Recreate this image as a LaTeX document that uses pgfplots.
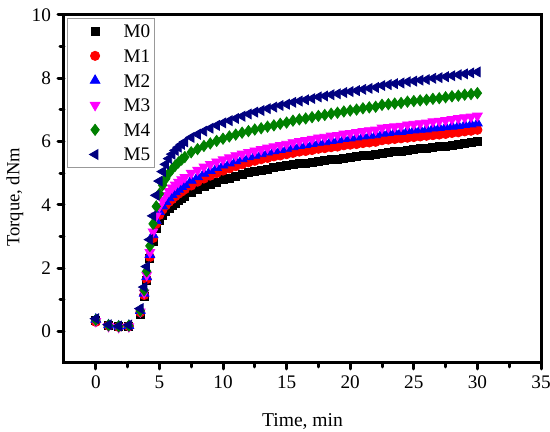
\documentclass[border=0pt]{standalone}
\usepackage{pgfplots}
\pgfplotsset{compat=1.18}
\usepackage{pgfplotstable}
\usepackage{fontspec}
\setmainfont{Liberation Serif}
\definecolor{mgreen}{RGB}{0,128,0}
\definecolor{mnavy}{RGB}{0,0,128}
\definecolor{mmag}{RGB}{255,0,255}
\definecolor{mred}{RGB}{255,0,0}
\definecolor{mblue}{RGB}{0,0,255}
\pgfplotstableread{
t m0 m1 m2 m3 m4 m5
0 0.35 0.30 0.38 0.32 0.36 0.40
1 0.20 0.18 0.20 0.16 0.19 0.21
1.8 0.15 0.14 0.16 0.13 0.16 0.17
2.6 0.17 0.16 0.18 0.15 0.18 0.20
3.5 0.55 0.60 0.65 0.62 0.65 0.72
3.8 1.10 1.15 1.20 1.22 1.30 1.40
4.0 1.60 1.65 1.72 1.78 1.90 2.05
4.25 2.30 2.35 2.42 2.50 2.70 2.90
4.5 2.85 2.95 3.05 3.15 3.40 3.65
4.75 3.25 3.40 3.50 3.65 3.95 4.30
5.0 3.50 3.68 3.78 3.95 4.35 4.75
5.25 3.68 3.85 3.96 4.14 4.62 5.05
5.5 3.80 3.98 4.10 4.30 4.83 5.28
5.75 3.90 4.09 4.22 4.43 5.00 5.46
6.0 3.98 4.18 4.32 4.54 5.13 5.60
6.25 4.06 4.27 4.41 4.63 5.24 5.72
6.5 4.13 4.35 4.49 4.72 5.34 5.82
6.75 4.20 4.42 4.57 4.80 5.43 5.91
7.0 4.27 4.49 4.64 4.87 5.51 5.99
7.5 4.38 4.61 4.77 5.00 5.66 6.13
8.0 4.48 4.73 4.88 5.10 5.76 6.23
8.5 4.57 4.83 4.99 5.20 5.86 6.33
9.0 4.65 4.92 5.08 5.28 5.94 6.42
9.5 4.72 5.00 5.17 5.36 6.02 6.51
10 4.79 5.08 5.25 5.43 6.09 6.59
10.5 4.85 5.15 5.32 5.49 6.16 6.66
11 4.91 5.22 5.39 5.56 6.22 6.73
11.5 4.96 5.28 5.45 5.61 6.28 6.80
12 5.01 5.34 5.51 5.66 6.33 6.87
12.5 5.05 5.39 5.56 5.71 6.38 6.93
13 5.09 5.44 5.61 5.75 6.42 6.98
13.5 5.13 5.48 5.66 5.80 6.47 7.04
14 5.17 5.53 5.70 5.84 6.51 7.09
14.5 5.20 5.56 5.74 5.88 6.56 7.14
15 5.23 5.60 5.78 5.92 6.60 7.18
15.5 5.27 5.64 5.83 5.97 6.66 7.24
16 5.30 5.68 5.87 6.01 6.70 7.28
16.5 5.32 5.70 5.90 6.04 6.73 7.32
17 5.35 5.73 5.93 6.08 6.77 7.36
17.5 5.38 5.77 5.97 6.12 6.81 7.41
18 5.40 5.79 5.99 6.14 6.84 7.44
18.5 5.43 5.82 6.03 6.18 6.88 7.48
19 5.45 5.84 6.05 6.20 6.91 7.51
19.5 5.48 5.88 6.09 6.24 6.95 7.55
20 5.50 5.90 6.11 6.26 6.98 7.58
20.5 5.52 5.92 6.14 6.29 7.01 7.61
21 5.55 5.95 6.17 6.32 7.05 7.65
21.5 5.57 5.97 6.19 6.35 7.08 7.68
22 5.59 5.99 6.21 6.37 7.10 7.71
22.5 5.64 6.04 6.26 6.43 7.16 7.77
23 5.66 6.06 6.28 6.45 7.18 7.80
23.5 5.68 6.08 6.30 6.47 7.20 7.83
24 5.70 6.10 6.31 6.49 7.22 7.85
24.5 5.73 6.12 6.34 6.53 7.26 7.89
25 5.75 6.14 6.36 6.55 7.28 7.91
25.5 5.77 6.16 6.38 6.57 7.30 7.94
26 5.79 6.18 6.39 6.59 7.32 7.96
26.5 5.82 6.20 6.42 6.63 7.35 8.00
27 5.84 6.22 6.44 6.65 7.37 8.02
27.5 5.86 6.24 6.46 6.67 7.40 8.05
28 5.89 6.27 6.48 6.70 7.43 8.08
28.5 5.91 6.29 6.50 6.73 7.45 8.11
29 5.94 6.32 6.53 6.76 7.48 8.14
29.5 5.96 6.34 6.55 6.78 7.50 8.17
30 5.99 6.37 6.58 6.81 7.53 8.20
}\datatable
\pgfplotsset{
  mk/.style={only marks,
    legend image code/.code={\path (0pt,0pt) (25.5pt,0pt); \draw[##1] plot coordinates {(11.5pt,0pt)};}},
}
\begin{document}
\begin{tikzpicture}
\begin{axis}[
  scale only axis,
  width=238.5pt, height=174pt,
  xmin=-2.5, xmax=35, ymin=-1, ymax=10,
  xtick={0,5,...,35}, ytick={0,2,...,10},
  minor x tick num=1, minor y tick num=1,
  tick pos=left, tick align=outside,
  axis line style={line width=1.5pt},
  major tick style={line width=1.5pt, line cap=round, black},
  minor tick style={line width=1.5pt, line cap=round, black},
  major tick length=3pt, minor tick length=2pt,
  /pgf/number format/assume math mode=true,
  tick label style={font=\fontsize{9.6}{11}\selectfont},
  x label style={font=\fontsize{9.8}{11}\selectfont},
  y label style={font=\fontsize{9.3}{11}\selectfont},
  xlabel={Time, min}, ylabel={Torque, dNm},
  x label style={at={(axis description cs:0.5,-0.1695)}, anchor=center},
  y label style={at={(axis description cs:-0.103,0.476)}, anchor=center},
  legend style={at={(axis description cs:0,1)}, anchor=north west,
    xshift=1.65pt, yshift=-1.65pt, draw=gray!80, line width=0.4pt,
    font=\fontsize{9.6}{11}\selectfont, inner xsep=2pt, inner ysep=3pt,
    nodes={inner sep=0pt, text height=6.5pt, text depth=0pt},
    row sep=5.83pt},
  legend cell align=left,
]
\addplot[mk, black, mark=square*, mark size=2pt] table[x=t,y=m0]{\datatable};
\addlegendentry{M0}
\addplot[mk, mred, mark=*, mark size=2.3pt] table[x=t,y=m1]{\datatable};
\addlegendentry{M1}
\addplot[mk, mblue, mark=triangle*, mark size=2.8pt] table[x=t,y=m2]{\datatable};
\addlegendentry{M2}
\addplot[mk, mmag, mark=triangle*, mark size=2.8pt, mark options={rotate=180}] table[x=t,y=m3]{\datatable};
\addlegendentry{M3}
\addplot[mk, mgreen, mark=diamond*, mark size=2.8pt] table[x=t,y=m4]{\datatable};
\addlegendentry{M4}
\addplot[mk, mnavy, mark=triangle*, mark size=2.8pt, mark options={rotate=90}] table[x=t,y=m5]{\datatable};
\addlegendentry{M5}
\end{axis}
\pgfresetboundingbox
\path ([shift={(-32pt,-34.5pt)}]current axis.south west) rectangle ([shift={(243pt,181.5pt)}]current axis.south west);
\end{tikzpicture}
\end{document}
